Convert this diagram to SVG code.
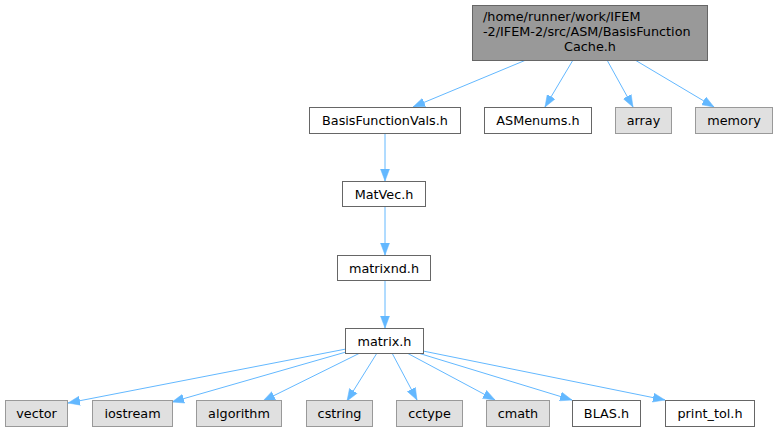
<svg xmlns="http://www.w3.org/2000/svg" width="778" height="432" viewBox="0 0 778 432">
<style>
text{font-family:"DejaVu Sans","Liberation Sans",sans-serif;font-size:12.8px;fill:#000}
.c{text-anchor:middle}
.n rect{fill:#ffffff;stroke:#666666;stroke-width:1}
.x rect{fill:#e0e0e0;stroke:#999999;stroke-width:1}
.r rect{fill:#999999;stroke:#666666;stroke-width:1}
#edges path{fill:none;stroke:#63b8ff;stroke-width:1;marker-end:url(#ah)}
</style>
<defs>
<marker id="ah" markerUnits="userSpaceOnUse" markerWidth="13" markerHeight="10" refX="12" refY="4.5" orient="auto" viewBox="0 0 13 9">
<path d="M0,0 L12,4.5 L0,9 Z" fill="#63b8ff" stroke="#63b8ff" stroke-width="0.5"/>
</marker>
</defs>
<rect width="778" height="432" fill="#ffffff"/>
<g id="edges">
<path d="M526,60 L413,107"/>
<path d="M573,60 L545,107"/>
<path d="M607,60 L633,107"/>
<path d="M635,60 L714,107"/>
<path d="M385,133 L385,181"/>
<path d="M385,206 L385,255"/>
<path d="M385,280 L385,328"/>
<path d="M346,349 L68,403"/>
<path d="M346,352 L172,402"/>
<path d="M360,353 L263,401"/>
<path d="M377,353 L347,401"/>
<path d="M392,353 L417,400"/>
<path d="M407,353 L495,400"/>
<path d="M418,353 L572,400"/>
<path d="M423,351 L665,400"/>
</g>
<g id="root" class="r"><rect x="472.5" y="5.5" width="235" height="55"/>
<text x="483" y="21">/home/runner/work/IFEM</text>
<text x="483" y="36">-2/IFEM-2/src/ASM/BasisFunction</text>
<text class="c" x="590" y="51">Cache.h</text></g>
<g id="BasisFunctionVals" class="n"><rect x="309.5" y="107.5" width="151" height="26"/><text class="c" x="385" y="125">BasisFunctionVals.h</text></g>
<g id="ASMenums" class="n"><rect x="484.5" y="107.5" width="107" height="26"/><text class="c" x="538" y="125">ASMenums.h</text></g>
<g id="array" class="x"><rect x="615.5" y="107.5" width="56" height="26"/><text class="c" x="643.5" y="125">array</text></g>
<g id="memory" class="x"><rect x="695.5" y="107.5" width="77" height="26"/><text class="c" x="734" y="125">memory</text></g>
<g id="MatVec" class="n"><rect x="342.5" y="181.5" width="83" height="25"/><text class="c" x="384" y="198.5">MatVec.h</text></g>
<g id="matrixnd" class="n"><rect x="337.5" y="255.5" width="93" height="25"/><text class="c" x="384" y="272.5">matrixnd.h</text></g>
<g id="matrix" class="n"><rect x="345.5" y="328.5" width="78" height="25"/><text class="c" x="384.5" y="345.5">matrix.h</text></g>
<g id="vector" class="x"><rect x="5.5" y="400.5" width="62" height="26"/><text class="c" x="36.5" y="418">vector</text></g>
<g id="iostream" class="x"><rect x="92.5" y="400.5" width="80" height="26"/><text class="c" x="132.5" y="418">iostream</text></g>
<g id="algorithm" class="x"><rect x="196.5" y="400.5" width="85" height="26"/><text class="c" x="239" y="418">algorithm</text></g>
<g id="cstring" class="x"><rect x="306.5" y="400.5" width="66" height="26"/><text class="c" x="339.5" y="418">cstring</text></g>
<g id="cctype" class="x"><rect x="396.5" y="400.5" width="66" height="26"/><text class="c" x="429.5" y="418">cctype</text></g>
<g id="cmath" class="x"><rect x="486.5" y="400.5" width="63" height="26"/><text class="c" x="518" y="418">cmath</text></g>
<g id="BLAS" class="n"><rect x="572.5" y="400.5" width="68" height="26"/><text class="c" x="606.5" y="418">BLAS.h</text></g>
<g id="print_tol" class="n"><rect x="665.5" y="400.5" width="89" height="26"/><text class="c" x="710" y="418">print_tol.h</text></g>
</svg>
